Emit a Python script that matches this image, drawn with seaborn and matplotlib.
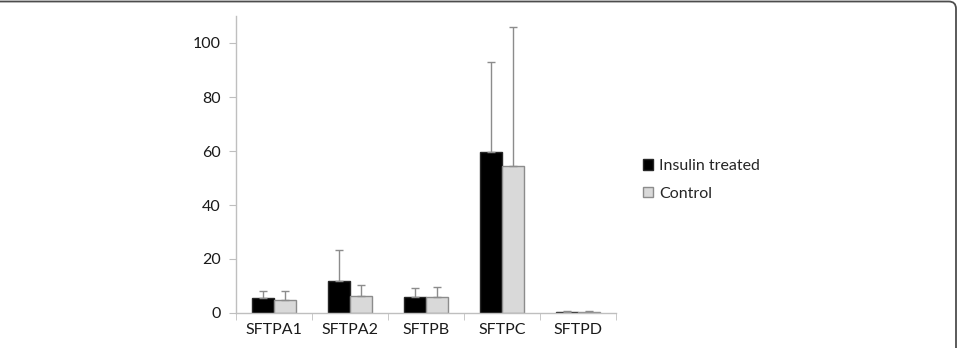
import pandas as pd
import seaborn as sns
import matplotlib.pyplot as plt
from matplotlib.patches import FancyBboxPatch, Patch

genes = ["SFTPA1", "SFTPA2", "SFTPB", "SFTPC", "SFTPD"]
groups = ["Insulin treated", "Control"]
insulin_mean = [5.4, 11.9, 5.8, 59.8, 0.5]
insulin_sd = [2.8, 11.6, 3.3, 33.2, 0.2]
control_mean = [4.7, 6.4, 5.8, 54.4, 0.5]
control_sd = [3.5, 3.9, 3.8, 51.4, 0.2]

df = pd.DataFrame({
    "gene": genes * 2,
    "group": [groups[0]] * len(genes) + [groups[1]] * len(genes),
    "value": insulin_mean + control_mean,
})
sds = [insulin_sd, control_sd]

sns.set_style("white")
plt.rcParams["font.family"] = ["Lato", "DejaVu Sans"]
fs = 11.5

fig = plt.figure(figsize=(9.63, 3.48), dpi=100)
ax = fig.add_axes([236 / 963, 1 - 313 / 348, 380 / 963, 297 / 348])

sns.barplot(data=df, x="gene", y="value", hue="group", order=genes,
            hue_order=groups, palette=["black", "#d9d9d9"], width=0.58,
            gap=0, errorbar=None, legend=False, ax=ax)

edge_cols = ["#262626", "#8c8c8c"]
for cont, sd, ec in zip(ax.containers, sds, edge_cols):
    xs, hs = [], []
    for bar in cont:
        bar.set_edgecolor(ec)
        bar.set_linewidth(1.0)
        xs.append(bar.get_x() + bar.get_width() / 2)
        hs.append(bar.get_height())
    ax.errorbar(xs, hs, yerr=[[0] * len(sd), sd], fmt="none",
                ecolor="#8c8c8c", elinewidth=1.0, capsize=3, capthick=1.0)

ax.set_ylim(0, 110)
ax.set_xlim(-0.5, 4.5)
ax.set_yticks(range(0, 101, 20))
ax.set_xlabel("")
ax.set_ylabel("")
ax.set_xticks([i - 0.5 for i in range(6)], minor=True)
ax.tick_params(axis="x", which="major", length=0, pad=7, labelsize=fs, colors="#1a1a1a")
ax.tick_params(axis="x", which="minor", length=5, color="#bfbfbf", direction="out", bottom=True)
ax.tick_params(axis="y", length=5, color="#bfbfbf", direction="out", left=True,
               labelsize=fs, labelcolor="#1a1a1a", pad=6)
for s in ["top", "right"]:
    ax.spines[s].set_visible(False)
for s in ["left", "bottom"]:
    ax.spines[s].set_color("#bfbfbf")
    ax.spines[s].set_linewidth(1.0)

handles = [Patch(facecolor="black", edgecolor="#262626"),
           Patch(facecolor="#d9d9d9", edgecolor="#8c8c8c")]
fig.legend(handles, groups, loc="upper left", bbox_to_anchor=(635 / 963, 1 - 151 / 348),
           frameon=False, fontsize=fs, handlelength=0.65, handleheight=0.65,
           handletextpad=0.35, labelspacing=0.85, borderpad=0)

# page frame: top edge and rounded top-right corner only
frame = FancyBboxPatch((-0.05, -0.2), 0.05 + 956 / 963, 0.2 + 1 - 1.5 / 348,
                       boxstyle="round,pad=0,rounding_size=0.0075",
                       transform=fig.transFigure, fill=False,
                       edgecolor="#4d4d4d", linewidth=1.3, mutation_aspect=963 / 348)
fig.patches.append(frame)

fig.savefig("out.png", dpi=100)
